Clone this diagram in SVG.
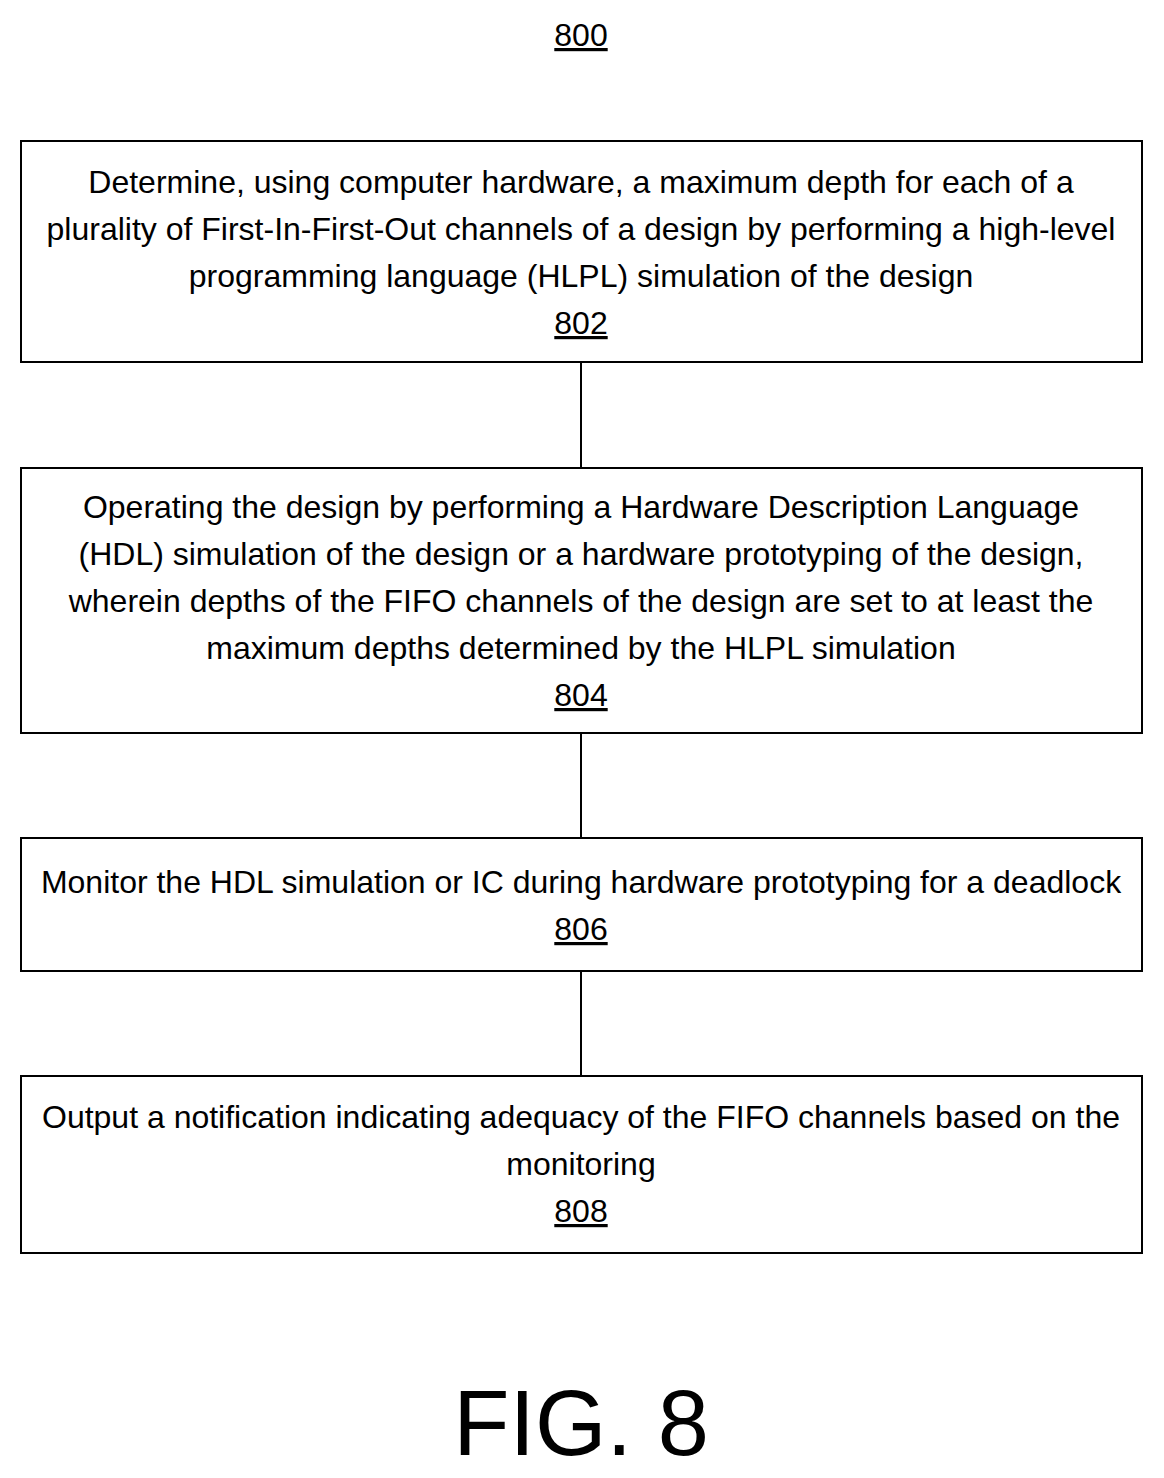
<svg xmlns="http://www.w3.org/2000/svg" width="1164" height="1478" viewBox="0 0 1164 1478">
<style>
text{font-family:"Liberation Sans",Arial,sans-serif;font-size:32px;fill:#000;text-anchor:middle}
.u{text-decoration:underline}
.box{fill:#fff;stroke:#000;stroke-width:2}
line{stroke:#000;stroke-width:2}
</style>
<rect width="1164" height="1478" fill="#fff"/>
<text x="581" y="46" class="u">800</text>
<g id="connectors">
<line x1="581" y1="362" x2="581" y2="468"/>
<line x1="581" y1="733" x2="581" y2="838"/>
<line x1="581" y1="971" x2="581" y2="1076"/>
</g>
<g id="n802">
<rect class="box" x="21" y="141" width="1121" height="221"/>
<text x="581" y="193">Determine, using computer hardware, a maximum depth for each of a</text>
<text x="581" y="240">plurality of First-In-First-Out channels of a design by performing a high-level</text>
<text x="581" y="287">programming language (HLPL) simulation of the design</text>
<text x="581" y="334" class="u">802</text>
</g>
<g id="n804">
<rect class="box" x="21" y="468" width="1121" height="265"/>
<text x="581" y="518">Operating the design by performing a Hardware Description Language</text>
<text x="581" y="565">(HDL) simulation of the design or a hardware prototyping of the design,</text>
<text x="581" y="612">wherein depths of the FIFO channels of the design are set to at least the</text>
<text x="581" y="659">maximum depths determined by the HLPL simulation</text>
<text x="581" y="706" class="u">804</text>
</g>
<g id="n806">
<rect class="box" x="21" y="838" width="1121" height="133"/>
<text x="581" y="893">Monitor the HDL simulation or IC during hardware prototyping for a deadlock</text>
<text x="581" y="940" class="u">806</text>
</g>
<g id="n808">
<rect class="box" x="21" y="1076" width="1121" height="177"/>
<text x="581" y="1128">Output a notification indicating adequacy of the FIFO channels based on the</text>
<text x="581" y="1175">monitoring</text>
<text x="581" y="1222" class="u">808</text>
</g>
<text x="581" y="1455" style="font-size:92px">FIG. 8</text>
</svg>
